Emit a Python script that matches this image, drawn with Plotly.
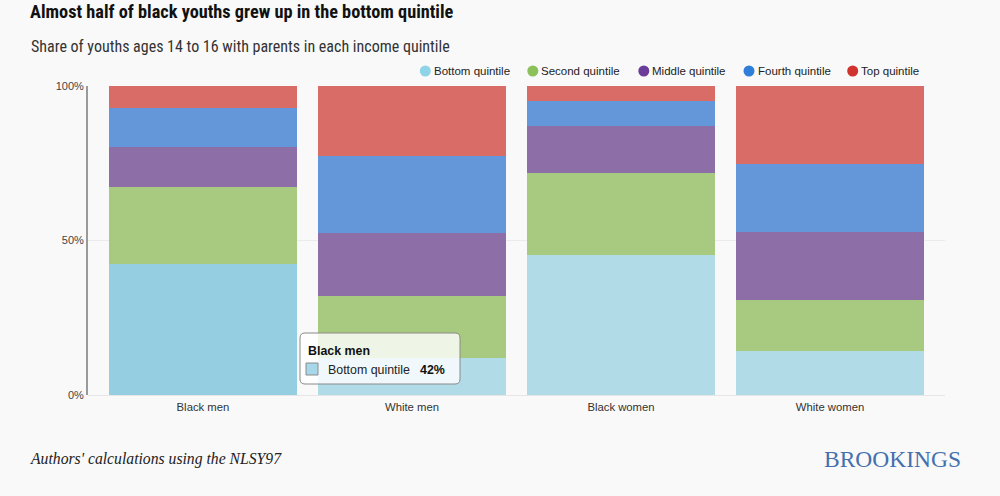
import plotly.graph_objects as go

categories = ["Black men", "White men", "Black women", "White women"]
series_names = ["Bottom quintile", "Second quintile", "Middle quintile", "Fourth quintile", "Top quintile"]
bottom = [42.4, 12.1, 45.4, 14.3]
second = [25.0, 19.9, 26.4, 16.3]
middle = [12.9, 20.3, 15.4, 22.0]
fourth = [12.6, 25.0, 7.9, 22.2]
top = [7.1, 22.7, 4.9, 25.2]
y_ticks = [0, 50, 100]
y_tick_labels = ["0%", "50%", "100%"]

bar_colors = [
    ["#94CEE0", "#B2DBE8", "#B2DBE8", "#B2DBE8"],
    "#A8CA80",
    "#8D6EA7",
    "#6497DA",
    "#DA6C67",
]
legend_colors = ["#8ED3E8", "#8BC05A", "#6A3D9A", "#2F7ED8", "#D0332D"]

# layout helpers (pixel -> paper coordinates)
L, R, T, B = 88, 55, 86, 101
PW, PH = 1000 - L - R, 496 - T - B


def px(x):
    return (x - L) / PW


def py(y):
    return (496 - B - y) / PH


fig = go.Figure()
for name, vals, col in zip(series_names, [bottom, second, middle, fourth, top], bar_colors):
    fig.add_trace(go.Bar(
        x=categories, y=vals, name=name, marker=dict(color=col, line=dict(width=0)),
        showlegend=False,
    ))

cond = "Roboto Condensed, Open Sans Condensed, sans-serif"
sans = "Liberation Sans, Arial, Helvetica, sans-serif"

fig.update_layout(
    width=1000, height=496,
    barmode="stack", bargap=0.1,
    paper_bgcolor="#F9F9F9", plot_bgcolor="#F9F9F9",
    margin=dict(l=L, r=R, t=T, b=B),
    font=dict(family=sans, size=11, color="#333"),
    title=dict(
        text="<b>Almost half of black youths grew up in the bottom quintile</b>",
        x=0.03, xanchor="left", xref="container",
        y=1 - 12 / 496, yanchor="middle", yref="container",
        font=dict(family=cond, size=18.3, color="#111"),
    ),
    showlegend=False,
    xaxis=dict(
        range=[-0.55, 3.55], showgrid=False, zeroline=False, showline=False,
        ticks="", tickfont=dict(size=11.3, color="#333"), ticklabelstandoff=4,
    ),
    yaxis=dict(
        range=[0, 100], tickvals=y_ticks, ticktext=y_tick_labels,
        showgrid=True, gridcolor="#EBEBEB", gridwidth=1,
        zeroline=True, zerolinecolor="#E6E6E6", zerolinewidth=1,
        showline=True, linecolor="#9A9A9A", linewidth=2,
        ticks="", tickfont=dict(size=11, color="#444"),
    ),
    hovermode=False,
)

# subtitle
fig.add_annotation(
    text="Share of youths ages 14 to 16 with parents in each income quintile",
    xref="paper", yref="paper", x=px(28.5), y=py(46.5),
    xanchor="left", yanchor="middle", showarrow=False,
    font=dict(family=cond, size=16, color="#333"),
)

# custom legend with circle markers
legend_dot_x = [425.3, 532.8, 643.8, 749, 852.7]
legend_y = 71
for name, col, dx in zip(series_names, legend_colors, legend_dot_x):
    fig.add_shape(
        type="circle", xref="paper", yref="paper",
        xsizemode="pixel", ysizemode="pixel", xanchor=px(dx), yanchor=py(legend_y),
        x0=-5.5, x1=5.5, y0=-5.5, y1=5.5,
        fillcolor=col, line=dict(width=0),
    )
    fig.add_annotation(
        text=name, xref="paper", yref="paper", x=px(dx + 6.5), y=py(legend_y),
        xanchor="left", yanchor="middle", showarrow=False,
        font=dict(family=sans, size=11.5, color="#222"),
    )

# footer
fig.add_annotation(
    text="<i>Authors' calculations using the NLSY97</i>",
    xref="paper", yref="paper", x=px(27.5), y=py(459),
    xanchor="left", yanchor="middle", showarrow=False,
    font=dict(family="Liberation Serif, DejaVu Serif, serif", size=15.7, color="#222"),
)
fig.add_annotation(
    text="BROOKINGS",
    xref="paper", yref="paper", x=px(963), y=py(459),
    xanchor="right", yanchor="middle", showarrow=False,
    font=dict(family="Liberation Serif, DejaVu Serif, serif", size=23.5, color="#4470AD"),
)

# tooltip-like box (rounded rectangle)
bx0, bx1, by0, by1, r = 300, 460, 333, 384, 5
path = (
    f"M {px(bx0 + r)},{py(by0)} L {px(bx1 - r)},{py(by0)} "
    f"Q {px(bx1)},{py(by0)} {px(bx1)},{py(by0 + r)} "
    f"L {px(bx1)},{py(by1 - r)} Q {px(bx1)},{py(by1)} {px(bx1 - r)},{py(by1)} "
    f"L {px(bx0 + r)},{py(by1)} Q {px(bx0)},{py(by1)} {px(bx0)},{py(by1 - r)} "
    f"L {px(bx0)},{py(by0 + r)} Q {px(bx0)},{py(by0)} {px(bx0 + r)},{py(by0)} Z"
)
fig.add_shape(type="path", path=path, xref="paper", yref="paper",
              fillcolor="rgba(255,255,255,0.8)", line=dict(color="#8A8A8A", width=1))
fig.add_shape(type="rect", xref="paper", yref="paper",
              x0=px(306), x1=px(318), y0=py(375), y1=py(363),
              fillcolor="#A6D8EA", line=dict(color="#8A8A8A", width=1))
fig.add_annotation(
    text="<b>" + categories[0] + "</b>", xref="paper", yref="paper", x=px(306), y=py(350.5),
    xanchor="left", yanchor="middle", showarrow=False,
    font=dict(family=sans, size=12.4, color="#111"),
)
fig.add_annotation(
    text=series_names[0], xref="paper", yref="paper", x=px(326), y=py(369.5),
    xanchor="left", yanchor="middle", showarrow=False,
    font=dict(family=sans, size=12.4, color="#222"),
)
fig.add_annotation(
    text="<b>" + f"{bottom[0]:.0f}%" + "</b>", xref="paper", yref="paper", x=px(418), y=py(369.5),
    xanchor="left", yanchor="middle", showarrow=False,
    font=dict(family=sans, size=12.4, color="#111"),
)

fig.write_html("out.html", config={"displayModeBar": False},
               post_script="document.body.style.margin='0';document.body.style.background='#F9F9F9';")
